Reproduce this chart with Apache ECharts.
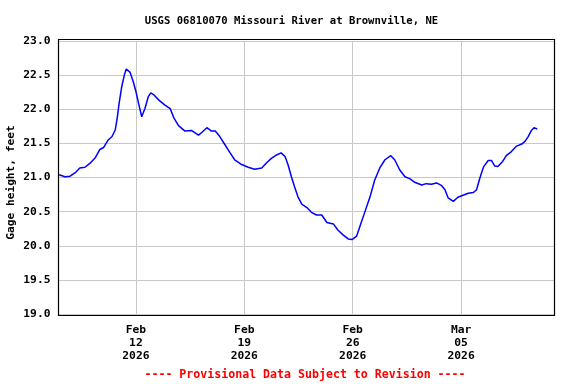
<!DOCTYPE html>
<html>
<head>
<meta charset="utf-8">
<script src="https://cdn.jsdelivr.net/npm/echarts@6/dist/echarts.min.js"></script>
<style>
html,body{margin:0;padding:0;background:#fff;}
#c{width:576px;height:384px;}
</style>
</head>
<body>
<div id="c"></div>
<script>
const titleText = 'USGS 06810070 Missouri River at Brownville, NE';
const yAxisName = 'Gage height, feet';
const footerText = '---- Provisional Data Subject to Revision ----';

const times = [
 '2026-02-07T01:00','2026-02-07T10:00','2026-02-07T18:00','2026-02-08T02:00','2026-02-08T09:00',
 '2026-02-08T17:00','2026-02-09T01:00','2026-02-09T09:00','2026-02-09T16:00','2026-02-09T22:00',
 '2026-02-10T05:00','2026-02-10T11:00','2026-02-10T16:00','2026-02-10T19:00','2026-02-10T22:00',
 '2026-02-11T02:00','2026-02-11T06:00','2026-02-11T09:00','2026-02-11T12:00','2026-02-11T15:00',
 '2026-02-11T20:00','2026-02-12T00:00','2026-02-12T04:00','2026-02-12T09:00','2026-02-12T14:00',
 '2026-02-12T19:00','2026-02-12T23:00','2026-02-13T04:00','2026-02-13T12:00','2026-02-13T21:00',
 '2026-02-14T05:00','2026-02-14T11:00','2026-02-14T18:00','2026-02-15T04:00','2026-02-15T14:00',
 '2026-02-16T01:00','2026-02-16T06:00','2026-02-16T14:00','2026-02-16T21:00','2026-02-17T03:00',
 '2026-02-17T10:00','2026-02-17T18:00','2026-02-18T02:00','2026-02-18T09:00','2026-02-18T20:00',
 '2026-02-19T06:00','2026-02-19T16:00','2026-02-20T03:00','2026-02-20T11:00','2026-02-20T18:00',
 '2026-02-21T02:00','2026-02-21T09:00','2026-02-21T15:00','2026-02-21T20:00','2026-02-22T01:00',
 '2026-02-22T06:00','2026-02-22T11:00','2026-02-22T17:00','2026-02-23T01:00','2026-02-23T08:00',
 '2026-02-23T16:00','2026-02-24T00:00','2026-02-24T08:00','2026-02-24T18:00','2026-02-25T01:00',
 '2026-02-25T09:00','2026-02-25T17:00','2026-02-25T23:00','2026-02-26T06:00','2026-02-26T11:00',
 '2026-02-26T19:00','2026-02-27T03:00','2026-02-27T10:00','2026-02-27T18:00','2026-02-28T02:00',
 '2026-02-28T11:00','2026-02-28T17:00','2026-03-01T01:00','2026-03-01T09:00','2026-03-01T17:00',
 '2026-03-02T00:00','2026-03-02T11:00','2026-03-02T18:00','2026-03-03T02:00','2026-03-03T10:00',
 '2026-03-03T18:00','2026-03-03T23:00','2026-03-04T04:00','2026-03-04T12:00','2026-03-04T19:00',
 '2026-03-05T03:00','2026-03-05T11:00','2026-03-05T19:00','2026-03-06T00:00','2026-03-06T05:00',
 '2026-03-06T11:00','2026-03-06T18:00','2026-03-06T23:00','2026-03-07T04:00','2026-03-07T09:00',
 '2026-03-07T16:00','2026-03-07T22:00','2026-03-08T06:00','2026-03-08T14:00','2026-03-08T22:00',
 '2026-03-09T03:00','2026-03-09T08:00','2026-03-09T13:00','2026-03-09T17:00','2026-03-09T22:00'
];
const gageHeight = [
 21.04,21.01,21.02,21.07,21.14,
 21.15,21.21,21.29,21.41,21.44,
 21.55,21.60,21.70,21.87,22.09,
 22.33,22.50,22.59,22.61,22.54,
 22.40,22.26,22.09,21.89,22.01,
 22.18,22.24,22.21,22.13,22.06,
 22.01,21.87,21.76,21.68,21.69,
 21.62,21.66,21.73,21.68,21.68,
 21.60,21.48,21.36,21.26,21.19,
 21.15,21.12,21.14,21.22,21.28,
 21.33,21.36,21.31,21.18,21.01,
 20.86,20.72,20.61,20.56,20.49,
 20.45,20.45,20.34,20.32,20.23,
 20.16,20.10,20.09,20.14,20.28,
 20.50,20.72,20.96,21.14,21.26,
 21.32,21.26,21.11,21.01,20.98,
 20.93,20.89,20.91,20.90,20.92,
 20.88,20.82,20.70,20.65,20.71,
 20.74,20.77,20.78,20.82,20.99,
 21.16,21.25,21.25,21.17,21.16,
 21.23,21.32,21.38,21.46,21.49,
 21.53,21.60,21.69,21.73,21.71
];
const xTickDates = ['2026-02-12T00:00','2026-02-19T00:00','2026-02-26T00:00','2026-03-05T00:00'];
const xMinDate = '2026-02-07T00:00';
const xMaxDate = '2026-03-11T00:00';
const yMin = 19.0, yMax = 23.0, yStep = 0.5;

const monthNames = ['Jan','Feb','Mar','Apr','May','Jun','Jul','Aug','Sep','Oct','Nov','Dec'];
function ts(s){ return Date.parse(s + ':00Z'); }
const seriesData = times.map((t,i)=>[ts(t), gageHeight[i]]);
const tickVals = xTickDates.map(ts);

const FONT = '"DejaVu Sans Mono", "Liberation Mono", monospace';

const chart = echarts.init(document.getElementById('c'), null, {renderer:'canvas'});
chart.setOption({
  animation:false,
  backgroundColor:'#fff',
  graphic:[{
    type:'text', x:291.5, y:15.5,
    style:{text:titleText, fill:'#000', font:'bold 10.6px ' + FONT, align:'center'}
  },{
    type:'text', x:305, y:369,
    style:{text:footerText, fill:'#ff0000', font:'bold 11.6px ' + FONT, align:'center'}
  },{
    type:'rect', shape:{x:58.5, y:39.5, width:496, height:276},
    style:{fill:null, stroke:'#000', lineWidth:1.2}, z:10, silent:true
  }],
  grid:{left:58.5, top:41, width:495.5, height:273, containLabel:false,
        outerBoundsMode:'none', show:false},
  xAxis:{
    type:'value', min:ts(xMinDate), max:ts(xMaxDate),
    axisLine:{show:false},
    axisTick:{show:false, customValues:tickVals},
    splitLine:{show:true, lineStyle:{color:'#c8c8c8', width:1}},
    axisLabel:{
      customValues:tickVals, margin:10, lineHeight:12.8,
      fontFamily:FONT, fontSize:11.3, fontWeight:'bold', color:'#000',
      formatter:function(v){ const d=new Date(v); return monthNames[d.getUTCMonth()]+'\n'+String(d.getUTCDate()).padStart(2,'0')+'\n'+d.getUTCFullYear(); }
    }
  },
  yAxis:{
    type:'value', min:yMin, max:yMax, interval:yStep,
    name:yAxisName, nameLocation:'middle', nameGap:42, nameMoveOverlap:false,
    nameTextStyle:{fontFamily:FONT, fontSize:11.2, fontWeight:'bold', color:'#000', padding:[0,10,0,0]},
    axisLine:{show:false}, axisTick:{show:false},
    splitLine:{show:true, lineStyle:{color:'#c8c8c8', width:1}},
    axisLabel:{margin:8, fontFamily:FONT, fontSize:11.3, fontWeight:'bold', color:'#000',
      formatter:function(v){ return v.toFixed(1); }}
  },
  series:[{
    type:'line', data:seriesData, showSymbol:false, symbol:'none',
    lineStyle:{color:'#0000ff', width:1.5}, z:3
  }]
});
</script>
</body>
</html>
